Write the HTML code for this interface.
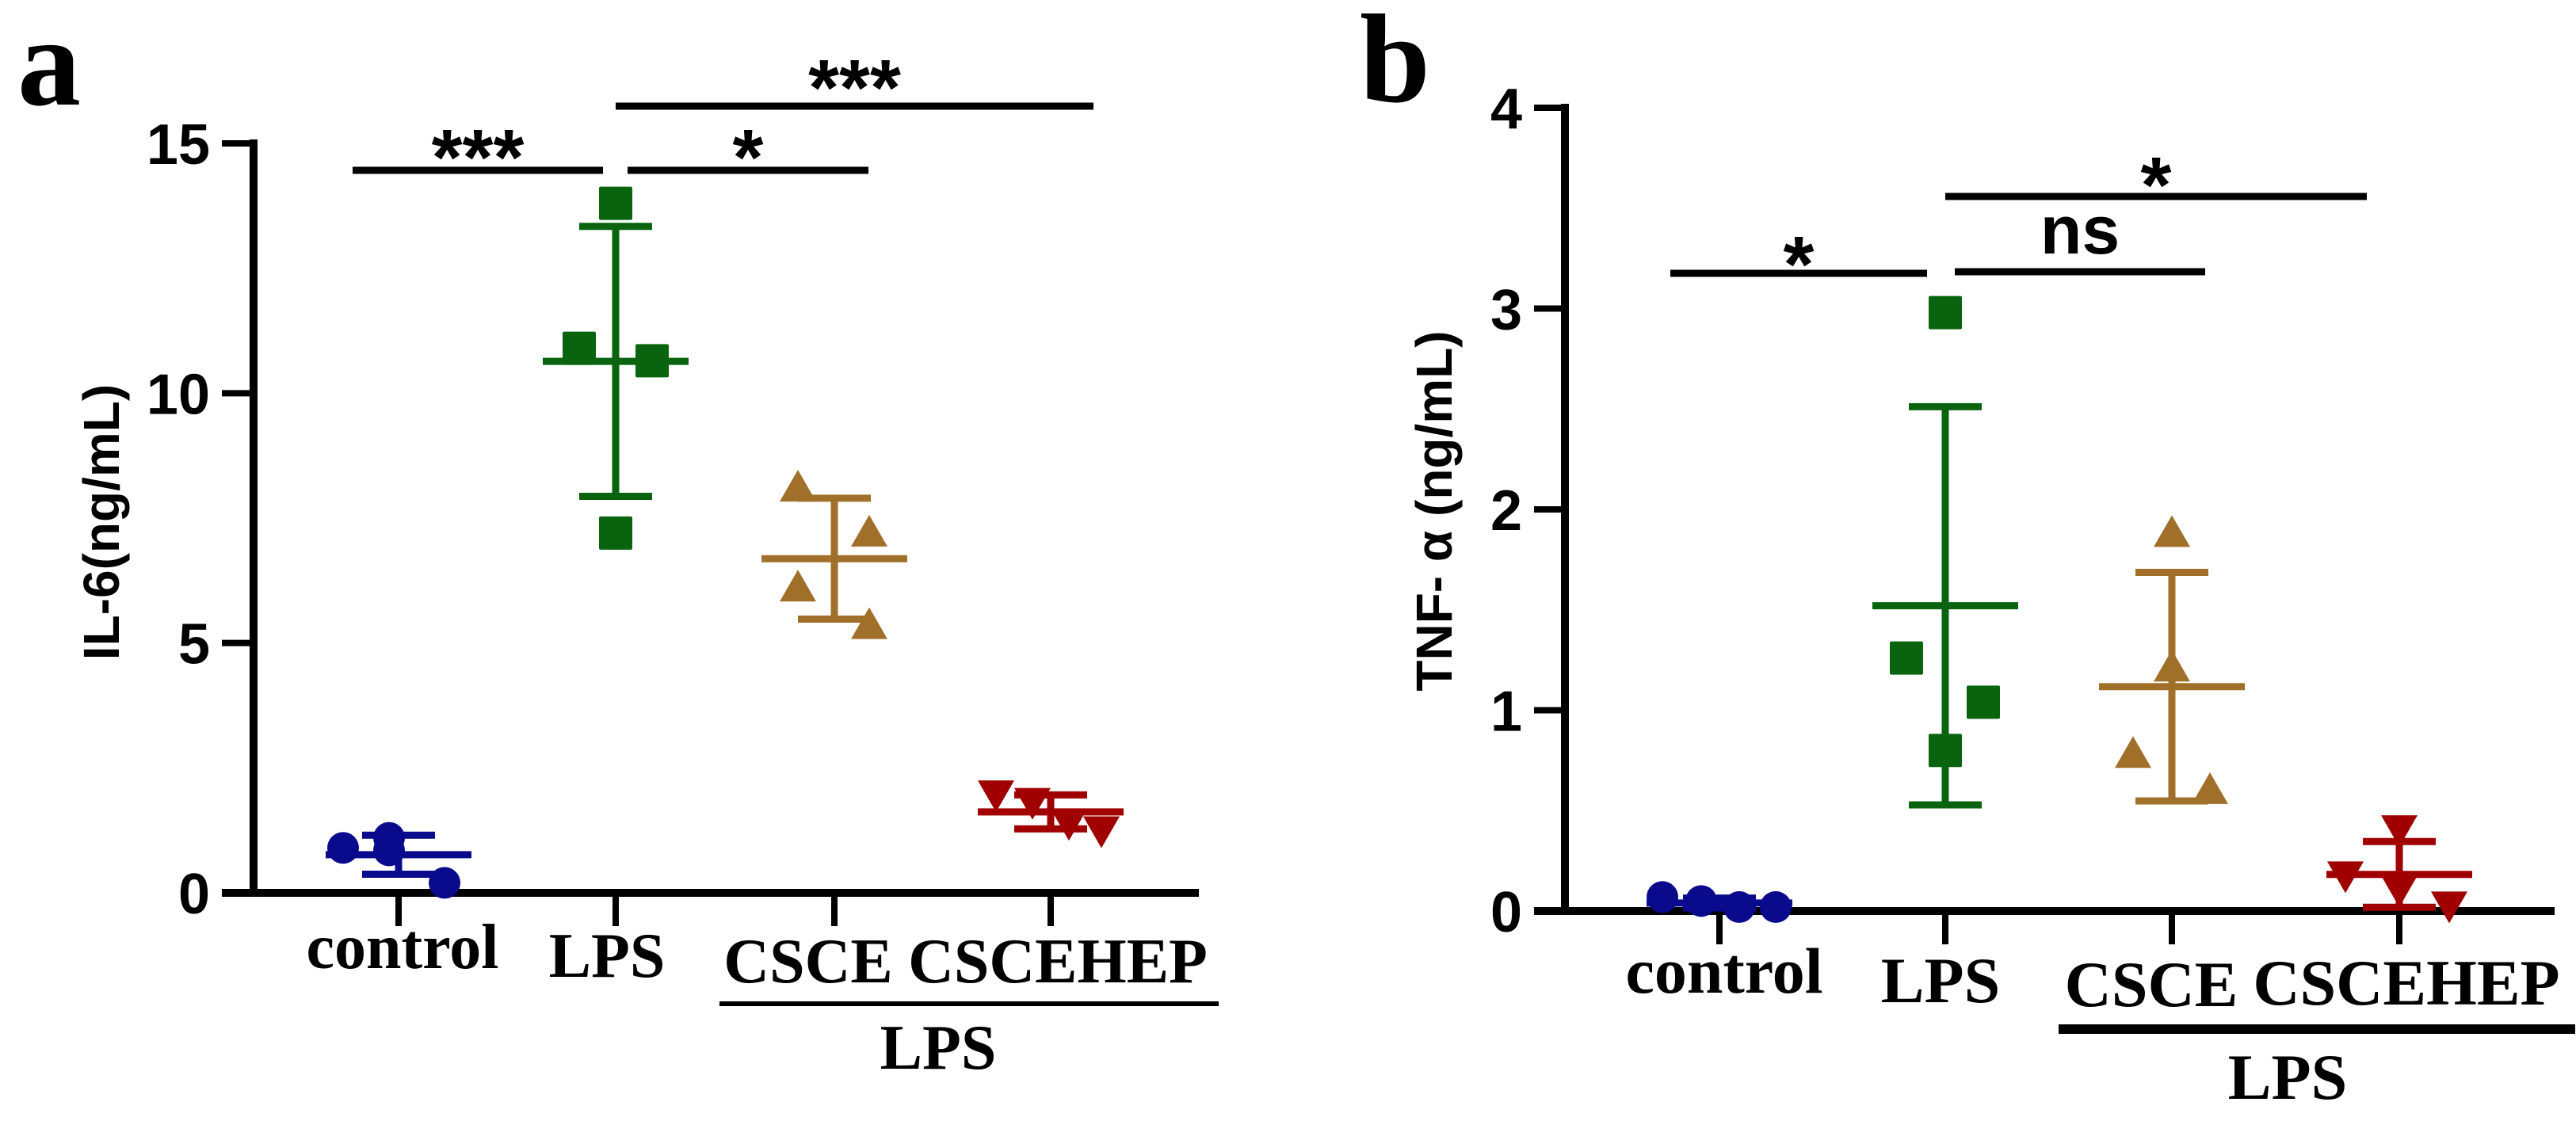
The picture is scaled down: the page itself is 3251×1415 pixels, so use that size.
<!DOCTYPE html>
<html><head><meta charset="utf-8"><style>
html,body{margin:0;padding:0;background:#fff;}
svg{display:block;}
.ax{font-family:"Liberation Sans",Arial,sans-serif;font-weight:bold;}
.tm{font-family:"Liberation Serif","Times New Roman",serif;font-weight:bold;}
</style></head><body>
<svg id="fig" width="3251" height="1415" viewBox="0 0 3251 1415" xmlns="http://www.w3.org/2000/svg">
<rect width="3251" height="1415" fill="#fff"/>
<g id="pa"></g>
<g id="pb"></g>
</svg>
<script>
// ---------- data ----------
const groups = ["control","LPS","CSCE","CSCEHEP"];
const colors = ["#0a0a8c","#0a640f","#a0702a","#a00000"];
const shapes = ["circle","square","triangle","down"];
// Panel a: IL-6 (ng/mL)
const il6Control = [0.9, 1.1, 0.85, 0.2];
const il6LPS = [13.8, 10.9, 10.65, 7.2];
const il6CSCE = [8.1, 7.2, 6.1, 5.35];
const il6CSCEHEP = [1.98, 1.83, 1.41, 1.26];
const il6Ticks = [0, 5, 10, 15];
// Panel b: TNF-alpha (ng/mL)
const tnfControl = [0.07, 0.05, 0.02, 0.02];
const tnfLPS = [2.98, 1.26, 1.04, 0.8];
const tnfCSCE = [1.88, 1.21, 0.78, 0.6];
const tnfCSCEHEP = [0.41, 0.18, 0.11, 0.03];
const tnfTicks = [0, 1, 2, 3, 4];
// significance annotations: [fromGroup, toGroup, label]
const sigA = [[0, 1, "***"], [1, 2, "*"], [1, 3, "***"]];
const sigB = [[0, 1, "*"], [1, 2, "ns"], [1, 3, "*"]];

// ---------- layout ----------
const NS = "http://www.w3.org/2000/svg";
function mk(parent, tag, attrs, text) {
  const e = document.createElementNS(NS, tag);
  for (const k in attrs) e.setAttribute(k, attrs[k]);
  if (text !== undefined) e.textContent = text;
  parent.appendChild(e);
  return e;
}

const panels = [
  { g: document.getElementById("pa"), key: "a", letterX: 22, letterY: 132,
    axX: 320, axLeft: 280, axRight: 1513, y0: 1127, yTop: 181, ymax: 15,
    ticks: il6Ticks, tickLabelX: 265,
    groupX: [503, 777, 1053, 1326],
    data: [il6Control, il6LPS, il6CSCE, il6CSCEHEP],
    jitter: [[-70, -12, -12, 58], [0, -46, 46, 0], [-46, 44, -46, 44], [-69, -23, 23, 64]],
    title: "IL-6(ng/mL)", titleX: 128, titleY: 659,
    labelY: [1222, 1233, 1240, 1240], labelX: [508, 766, 1020, 1335],
    under: [908, 1538, 1267, 6], lpsX: 1184, lpsY: 1349,
    sig: sigA, sigY: [215, 215, 134], sigX: [[445, 761], [792, 1096], [777, 1380]],
    starY: [233, 233, 145], fs: 80 },
  { g: document.getElementById("pb"), key: "b", letterX: 1716, letterY: 128,
    axX: 1975, axLeft: 1936, axRight: 3224, y0: 1150, yTop: 136, ymax: 4,
    ticks: tnfTicks, tickLabelX: 1921,
    groupX: [2170, 2455, 2741, 3028],
    data: [tnfControl, tnfLPS, tnfCSCE, tnfCSCEHEP],
    jitter: [[-72, -23, 25, 71], [0, -49, 48, 0], [0, 0, -49, 48], [0, -68, 0, 63]],
    title: "TNF- \u03b1 (ng/mL)", titleX: 1810, titleY: 645,
    labelY: [1253, 1265, 1270, 1268], labelX: [2176, 2449, 2715, 3037],
    under: [2598, 3250, 1299, 12], lpsX: 2887, lpsY: 1387,
    sig: sigB, sigY: [345, 343, 248], sigX: [[2108, 2432], [2467, 2783], [2455, 2987]],
    starY: [368, 320, 268], fs: 82 }
];

panels.forEach(p => {
  const g = p.g;
  const ys = v => p.y0 - (p.y0 - p.yTop) * v / p.ymax;

  const letter = mk(g, "text", { x: p.letterX, y: p.letterY, class: "tm", "font-size": 160 }, p.key);
  
  

  // axes
  const yAxis = mk(g, "line", { x1: p.axX, y1: p.yTop - 5, x2: p.axX, y2: p.y0 + 5, stroke: "#000", "stroke-width": 10 });
  
  
  const xAxis = mk(g, "line", { x1: p.axLeft, y1: p.y0, x2: p.axRight, y2: p.y0, stroke: "#000", "stroke-width": 10 });
  
  

  p.ticks.forEach(t => {
    const y = ys(t);
    const tk = mk(g, "line", { x1: p.axLeft, y1: y, x2: p.axX, y2: y, stroke: "#000", "stroke-width": 8 });
    
    
    const tl = mk(g, "text", { x: p.tickLabelX, y: y + 26, class: "ax", "font-size": 72, "text-anchor": "end" }, String(t));
    
    
  });

  const title = mk(g, "text", { x: p.titleX, y: p.titleY, class: "ax", "font-size": 64, "text-anchor": "middle",
    "dominant-baseline": "central", transform: "rotate(-90 " + p.titleX + " " + p.titleY + ")" }, p.title);
  
  

  groups.forEach((name, i) => {
    const gx = p.groupX[i];
    const tk = mk(g, "line", { x1: gx, y1: p.y0, x2: gx, y2: p.y0 + 42, stroke: "#000", "stroke-width": 8 });
    
    
    const lb = mk(g, "text", { x: p.labelX[i], y: p.labelY[i], class: "tm", "font-size": p.fs, "text-anchor": "middle" }, name);
    
    

    // error bars (mean ± SD)
    const vals = p.data[i];
    const mean = vals.reduce((a, b) => a + b, 0) / vals.length;
    const sd = Math.sqrt(vals.reduce((a, b) => a + (b - mean) * (b - mean), 0) / (vals.length - 1));
    const col = colors[i];
    const eg = mk(g, "g", { stroke: col, "stroke-width": 9 });
    
    
    mk(eg, "line", { x1: gx, y1: ys(mean + sd), x2: gx, y2: ys(Math.max(mean - sd, 0)) });
    mk(eg, "line", { x1: gx - 92, y1: ys(mean), x2: gx + 92, y2: ys(mean) });
    mk(eg, "line", { x1: gx - 46, y1: ys(mean + sd), x2: gx + 46, y2: ys(mean + sd) });
    mk(eg, "line", { x1: gx - 46, y1: ys(mean - sd), x2: gx + 46, y2: ys(mean - sd) });

    vals.forEach((v, j) => {
      const x = gx + p.jitter[i][j], y = ys(v);
      let m;
      if (shapes[i] === "circle") m = mk(g, "circle", { cx: x, cy: y, r: 20, fill: col });
      else if (shapes[i] === "square") m = mk(g, "rect", { x: x - 21, y: y - 21, width: 42, height: 42, rx: 2, fill: col });
      else if (shapes[i] === "triangle") m = mk(g, "polygon", { points: `${x},${y - 23} ${x + 23},${y + 17} ${x - 23},${y + 17}`, fill: col });
      else m = mk(g, "polygon", { points: `${x - 23},${y - 17} ${x + 23},${y - 17} ${x},${y + 23}`, fill: col });
      
      
    });
  });

  const ul = mk(g, "line", { x1: p.under[0], y1: p.under[2], x2: p.under[1], y2: p.under[2], stroke: "#000", "stroke-width": p.under[3] });
  
  
  const lps = mk(g, "text", { x: p.lpsX, y: p.lpsY, class: "tm", "font-size": p.fs, "text-anchor": "middle" }, "LPS");
  
  

  p.sig.forEach((s, k) => {
    const ln = mk(g, "line", { x1: p.sigX[k][0], y1: p.sigY[k], x2: p.sigX[k][1], y2: p.sigY[k], stroke: "#000", "stroke-width": 9 });
    
    
    const cx = (p.sigX[k][0] + p.sigX[k][1]) / 2;
    const isStar = s[2] !== "ns";
    const st = mk(g, "text", { x: cx, y: p.starY[k], class: "ax", "font-size": isStar ? 100 : 86, "text-anchor": "middle" }, s[2]);
    
    
  });
});
</script>
</body></html>
